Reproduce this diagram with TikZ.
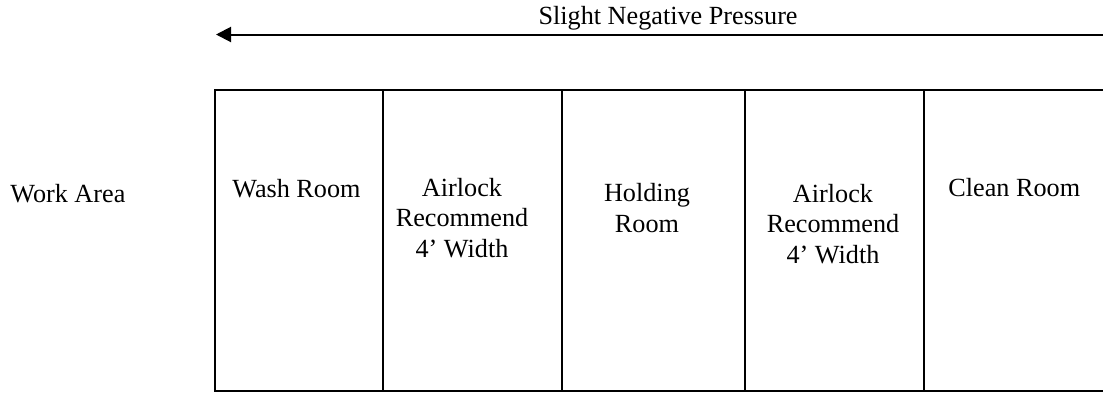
\documentclass[tikz,border=0pt]{standalone}
\usepackage{fontspec}
\setmainfont{Liberation Serif}
\usetikzlibrary{arrows.meta}
\tikzset{
  wall/.style={line width=1pt, line join=miter},
  pressure/.style={line width=1pt, -{Triangle[length=7.5pt,width=7.5pt]}},
  label/.style={inner sep=0pt, font=\fontsize{13.1}{15.25}\selectfont, align=center},
}
\begin{document}
\begin{tikzpicture}[x=0.5pt, y=-0.5pt]
  \useasboundingbox (0,0) rectangle (1103,392);

  % pressure direction
  \coordinate (pstart) at (1103,34.5);
  \coordinate (pend) at (216,34.5);
  \draw[pressure] (pstart) -- (pend);
  \node[label, anchor=base east] (ptext) at (798,24) {Slight Negative Pressure};

  % outline of the suite of rooms (open to the right)
  \draw[wall] (1103,90) -- (215,90) -- (215,391) -- (1103,391);
  \foreach \x in {382.5,562,745,924}
    \draw[wall] (\x,90) -- (\x,391);

  % room names (multi-line labels are placed by their last baseline)
  \node[label, anchor=base west] (work) at (10,202) {Work Area};
  \node[label, anchor=base west] (wash) at (232,197) {Wash Room};
  \node[label, anchor=base] (air1) at (462,257) {Airlock\\Recommend\\4’ Width};
  \node[label, anchor=base] (hold) at (647,232) {Holding\\Room};
  \node[label, anchor=base] (air2) at (833,263) {Airlock\\Recommend\\4’ Width};
  \node[label, anchor=base west] (clean) at (948,196) {Clean Room};
\end{tikzpicture}
\end{document}
